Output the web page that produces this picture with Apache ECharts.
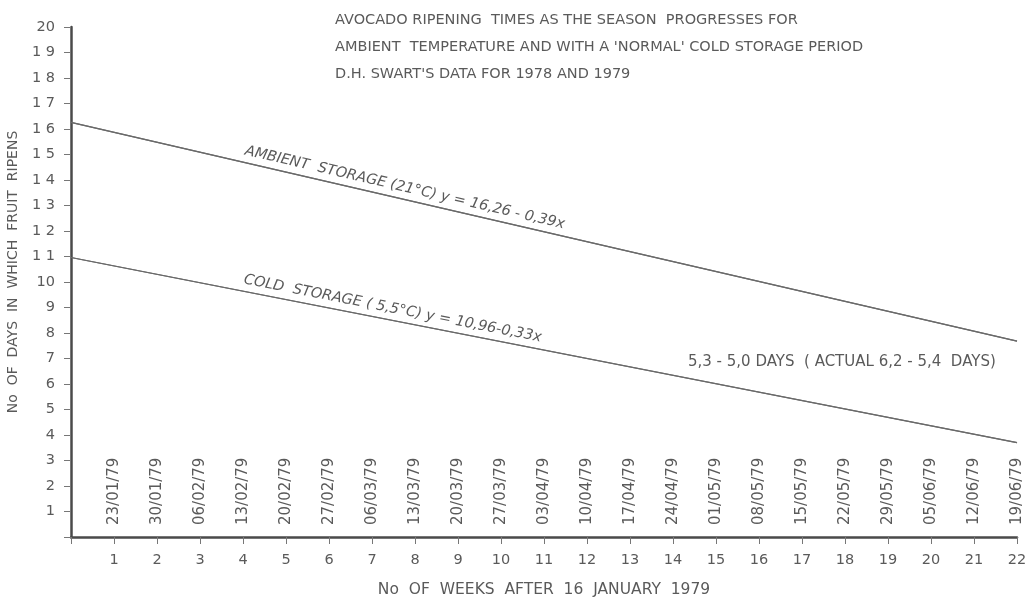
<!DOCTYPE html>
<html>
<head>
<meta charset="utf-8">
<script src="https://cdn.jsdelivr.net/npm/echarts@6/dist/echarts.min.js"></script>
<style>
html,body{margin:0;padding:0;background:#fff;}
#chart{width:1026px;height:597px;}
</style>
</head>
<body>
<div id="chart"></div>
<script>
// ---- data ----
var weeks = [0, 22];
var ambientDays = [16.26, 7.68];
var coldDays = [10.96, 3.70];
var weekLabels = ['', '1','2','3','4','5','6','7','8','9','10','11','12','13','14','15','16','17','18','19','20','21','22'];
var dateLabels = ['', '23/01/79','30/01/79','06/02/79','13/02/79','20/02/79','27/02/79','06/03/79','13/03/79','20/03/79','27/03/79','03/04/79','10/04/79','17/04/79','24/04/79','01/05/79','08/05/79','15/05/79','22/05/79','29/05/79','05/06/79','12/06/79','19/06/79'];
var yTickLabels = ['', '1','2','3','4','5','6','7','8','9','10','1 1','1 2','1 3','1 4','1 5','1 6','1 7','1 8','1 9','20'];
var titleLines = [
  'AVOCADO RIPENING  TIMES AS THE SEASON  PROGRESSES FOR',
  'AMBIENT  TEMPERATURE AND WITH A \'NORMAL\' COLD STORAGE PERIOD',
  'D.H. SWART\'S DATA FOR 1978 AND 1979'
];
var ambientLabel = 'AMBIENT  STORAGE (21°C) y = 16,26 - 0,39x';
var coldLabel = 'COLD  STORAGE ( 5,5°C) y = 10,96-0,33x';
var noteLabel = '5,3 - 5,0 DAYS  ( ACTUAL 6,2 - 5,4  DAYS)';

var FONT = '"DejaVu Sans", sans-serif';
var TXT = '#5a5a5a';
var LINE = '#6a6a6a';

function pairs(xs, ys){ return xs.map(function(x,i){ return [x, ys[i]]; }); }

var chart = echarts.init(document.getElementById('chart'));
chart.setOption({
  animation: false,
  backgroundColor: '#fff',
  title: {
    text: titleLines.join('\n'),
    left: 330, top: 2,
    textStyle: { fontFamily: FONT, fontSize: 14.5, fontWeight: 'normal', color: TXT, lineHeight: 27 }
  },
  grid: { left: 71, right: 9, top: 27, bottom: 60, containLabel: false, outerBoundsMode: 'none' },
  xAxis: [{
    type: 'value', min: 0, max: 22, interval: 1,
    name: 'No  OF  WEEKS  AFTER  16  JANUARY  1979',
    nameLocation: 'middle', nameGap: 45,
    nameTextStyle: { fontFamily: FONT, fontSize: 15.5, color: TXT },
    axisLine: { show: true, onZero: false, lineStyle: { color: '#4a4a4a', width: 2.5 } },
    axisTick: { show: true, length: 7, lineStyle: { color: '#777', width: 1 } },
    axisLabel: { fontFamily: FONT, fontSize: 14.5, color: TXT, margin: 16,
      formatter: function(v){ return weekLabels[v] || ''; } },
    splitLine: { show: false }
  }, {
    type: 'value', min: 0, max: 22, interval: 1, position: 'bottom',
    axisLine: { show: false }, axisTick: { show: false }, splitLine: { show: false },
    axisLabel: { inside: true, rotate: 90, margin: 12, fontFamily: FONT, fontSize: 15, color: TXT,
      hideOverlap: false, showMaxLabel: true,
      formatter: function(v){ return dateLabels[v] || ''; } }
  }],
  yAxis: {
    type: 'value', min: 0, max: 20, interval: 1,
    name: 'No  OF  DAYS  IN  WHICH  FRUIT  RIPENS',
    nameLocation: 'middle', nameGap: 51,
    nameTextStyle: { fontFamily: FONT, fontSize: 14, color: TXT, padding: [0,0,0,20] },
    axisLine: { show: true, onZero: false, lineStyle: { color: '#4a4a4a', width: 2.5 } },
    axisTick: { show: true, length: 7, lineStyle: { color: '#777', width: 1 } },
    axisLabel: { fontFamily: FONT, fontSize: 14.5, color: TXT, margin: 16,
      formatter: function(v){ return yTickLabels[v] || ''; } },
    splitLine: { show: false }
  },
  series: [{
    type: 'line', name: 'ambient', data: pairs(weeks, ambientDays),
    symbol: 'none', lineStyle: { color: LINE, width: 1.2 },
    markLine: {
      silent: true, symbol: 'none',
      lineStyle: { color: LINE, width: 1.2, type: 'solid' },
      label: { show: true, position: 'insideStartTop', distance: [176, 4], formatter: ambientLabel,
        fontFamily: FONT, fontSize: 14.5, fontStyle: 'italic', color: TXT },
      data: [[{ coord: [weeks[0], ambientDays[0]] }, { coord: [weeks[1], ambientDays[1]] }]]
    }
  }, {
    type: 'line', name: 'cold', data: pairs(weeks, coldDays),
    symbol: 'none', lineStyle: { color: LINE, width: 1.2 },
    markLine: {
      silent: true, symbol: 'none',
      lineStyle: { color: LINE, width: 1.2, type: 'solid' },
      label: { show: true, position: 'insideStartTop', distance: [174, 4], formatter: coldLabel,
        fontFamily: FONT, fontSize: 14.5, fontStyle: 'italic', color: TXT },
      data: [[{ coord: [weeks[0], coldDays[0]] }, { coord: [weeks[1], coldDays[1]] }]]
    }
  }],
  graphic: [{
    type: 'text', left: 688, top: 355,
    style: { text: noteLabel, fontFamily: FONT, fontSize: 15, fill: TXT }
  }]
});
</script>
</body>
</html>
